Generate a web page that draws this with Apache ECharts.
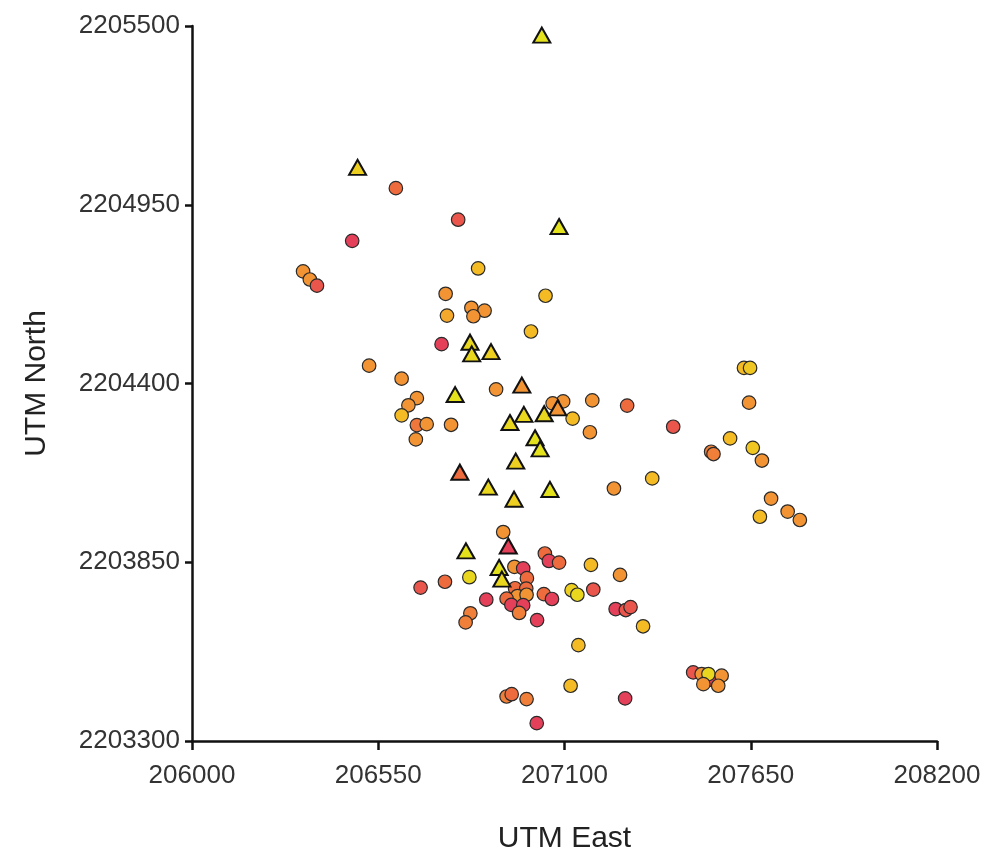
<!DOCTYPE html>
<html>
<head>
<meta charset="utf-8">
<script src="https://cdn.jsdelivr.net/npm/echarts@6/dist/echarts.min.js"></script>
<style>
  html, body { margin: 0; padding: 0; background: #fff; }
  #chart { width: 985px; height: 859px; }
</style>
</head>
<body>
<div id="chart"></div>
<script>
// Axis ticks (UTM metres)
const eastTicks = [206000, 206550, 207100, 207650, 208200];
const northTicks = [2203300, 2203850, 2204400, 2204950, 2205500];

// Triangle samples: easting, northing, grade (0 = low … 4 = high)
const triEast = [207033, 206489, 207084, 206821, 206826, 206883, 206974, 206777, 207040, 206980, 206939, 207080, 207013, 207028, 206956, 206791, 206875, 207057, 206951, 206809, 206934, 206907, 206915];
const triNorth = [2205472, 2205065, 2204883, 2204527, 2204491, 2204498, 2204395, 2204366, 2204307, 2204305, 2204280, 2204325, 2204233, 2204199, 2204161, 2204127, 2204081, 2204074, 2204044, 2203885, 2203900, 2203834, 2203798];
const triGrade = [0, 0.5, 0, 0.3, 0.3, 0.5, 2, 0, 0.3, 0.3, 0.3, 2, 0, 0, 0.5, 3, 0.3, 0, 0.5, 0, 4, 0, 0.3];

// Circle samples: easting, northing, grade
const cirEast = [206602, 206786, 206473, 206328, 206348, 206369, 206845, 206749, 207044, 206825, 206864, 206831, 206753, 207001, 206737, 206523, 206619, 206664, 206639, 206619, 206664, 206693, 206765, 206661, 206898, 207096, 207065, 207182, 207285, 207124, 207175, 207421, 207630, 207648, 207645, 207589, 207533, 207540, 207656, 207683, 207359, 207246, 207710, 207759, 207795, 207677, 206919, 207042, 207054, 207084, 207178, 207264, 206952, 206978, 206989, 206747, 206819, 206675, 206954, 206987, 206961, 206988, 206929, 206869, 207039, 207063, 207121, 207138, 207185, 206943, 206978, 206966, 207019, 206822, 206808, 207251, 207281, 207295, 207332, 207141, 207118, 206929, 206944, 206988, 207279, 207018, 207480, 207539, 207505, 207525, 207564, 207510, 207554];
const cirNorth = [2205001, 2204904, 2204839, 2204745, 2204720, 2204701, 2204754, 2204676, 2204670, 2204633, 2204624, 2204607, 2204609, 2204560, 2204521, 2204455, 2204415, 2204355, 2204333, 2204302, 2204272, 2204275, 2204273, 2204228, 2204382, 2204345, 2204339, 2204348, 2204332, 2204292, 2204250, 2204267, 2204448, 2204448, 2204341, 2204231, 2204190, 2204183, 2204202, 2204163, 2204108, 2204077, 2204046, 2204006, 2203980, 2203990, 2203943, 2203877, 2203854, 2203849, 2203842, 2203811, 2203836, 2203831, 2203801, 2203790, 2203804, 2203772, 2203770, 2203769, 2203746, 2203750, 2203738, 2203735, 2203752, 2203737, 2203764, 2203750, 2203766, 2203719, 2203718, 2203694, 2203672, 2203693, 2203665, 2203706, 2203703, 2203712, 2203653, 2203595, 2203470, 2203437, 2203444, 2203429, 2203431, 2203355, 2203511, 2203487, 2203506, 2203506, 2203501, 2203475, 2203470];
const cirGrade = [3, 3.5, 4, 2, 2, 3.5, 1, 2, 1, 2, 2, 2, 1.5, 1, 4, 2, 2, 2, 2, 1, 2.7, 2, 2, 2, 2, 2, 2, 2, 3, 1, 2, 3.5, 1, 0.7, 2, 1, 2.5, 2.5, 0.7, 2, 1, 2, 2, 2, 2, 1, 2, 3, 4, 3, 1, 2, 2, 4, 3, 3, 0.3, 3.5, 3, 3, 2, 2, 3, 4, 3, 4, 0.5, 0.3, 3.5, 4, 4, 2.5, 4, 2.5, 2.5, 4, 3.5, 3.5, 1, 1, 1, 2.5, 3, 2.5, 4, 4, 3.5, 4, 2, 0.3, 2, 2, 2];

const zip = (xs, ys, gs) => xs.map((x, i) => [x, ys[i], gs[i]]);

const font = '"Liberation Sans", Arial, Helvetica, sans-serif';
const axisLine = { show: true, lineStyle: { color: '#111', width: 2.5 } };
const plain = v => String(v);

const chart = echarts.init(document.getElementById('chart'), null, { renderer: 'canvas' });
chart.setOption({
  backgroundColor: '#ffffff',
  animation: false,
  grid: { left: 192, right: 48, top: 26, bottom: 117 },
  visualMap: {
    show: false,
    type: 'continuous',
    dimension: 2,
    min: 0,
    max: 4,
    seriesIndex: [0, 1],
    inRange: { color: ['#e4e21c', '#f5bb25', '#f29433', '#ee6b3e', '#e5405a'] }
  },
  xAxis: {
    type: 'value',
    min: eastTicks[0],
    max: eastTicks[eastTicks.length - 1],
    name: 'UTM East',
    nameLocation: 'middle',
    nameGap: 83,
    nameTextStyle: { fontFamily: font, fontSize: 30, color: '#222' },
    axisLine: axisLine,
    axisTick: { show: true, customValues: eastTicks, length: 9, lineStyle: { color: '#111', width: 2.5 } },
    axisLabel: { customValues: eastTicks, formatter: plain, margin: 22, fontFamily: font, fontSize: 26, color: '#333' },
    splitLine: { show: false }
  },
  yAxis: {
    type: 'value',
    min: northTicks[0],
    max: northTicks[northTicks.length - 1],
    name: 'UTM North',
    nameLocation: 'middle',
    nameGap: 140,
    nameTextStyle: { fontFamily: font, fontSize: 30, color: '#222' },
    axisLine: axisLine,
    axisTick: { show: true, customValues: northTicks, length: 7, lineStyle: { color: '#111', width: 2.5 } },
    axisLabel: { customValues: northTicks, formatter: plain, margin: 12, fontFamily: font, fontSize: 26, color: '#333' },
    splitLine: { show: false }
  },
  series: [
    {
      name: 'circles',
      type: 'scatter',
      symbol: 'circle',
      symbolSize: 13.5,
      itemStyle: { borderColor: '#2a2a2a', borderWidth: 1.2, opacity: 1 },
      data: zip(cirEast, cirNorth, cirGrade)
    },
    {
      name: 'triangles',
      type: 'scatter',
      symbol: 'triangle',
      symbolSize: [17, 15],
      itemStyle: { borderColor: '#111', borderWidth: 2, opacity: 1 },
      data: zip(triEast, triNorth, triGrade)
    }
  ]
});
</script>
</body>
</html>
